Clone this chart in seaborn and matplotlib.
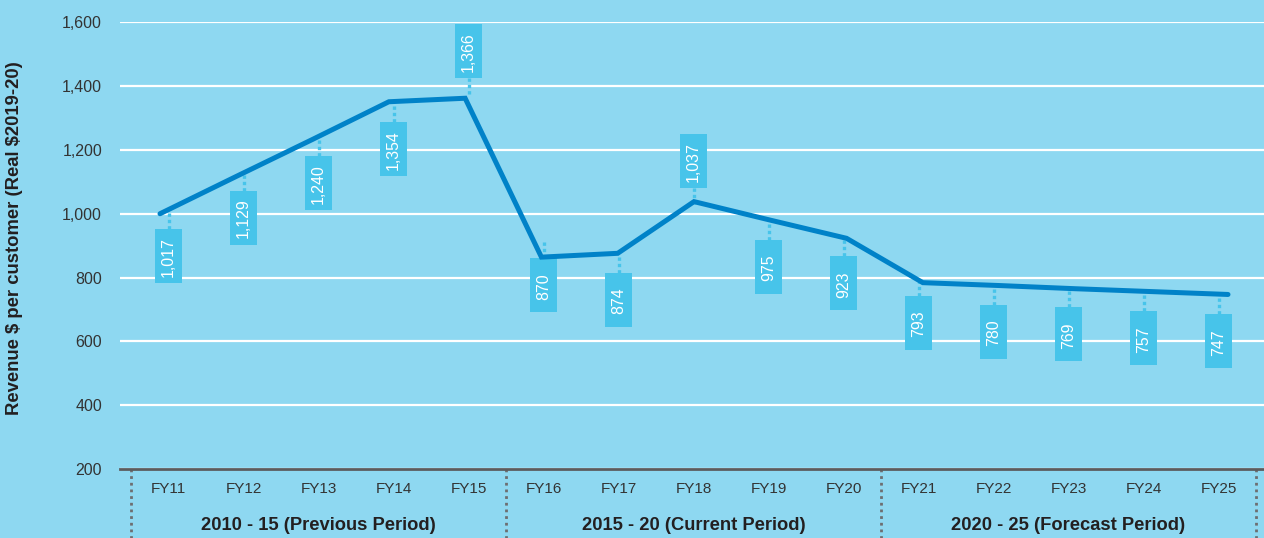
import numpy as np
import pandas as pd
import matplotlib
matplotlib.use("Agg")
import matplotlib.pyplot as plt
import matplotlib.transforms as mtransforms
from matplotlib.patches import Rectangle
import seaborn as sns

# ---------------- data ----------------
years = ["FY11", "FY12", "FY13", "FY14", "FY15", "FY16", "FY17", "FY18",
         "FY19", "FY20", "FY21", "FY22", "FY23", "FY24", "FY25"]
line_values = [1000, 1117, 1233, 1351, 1362, 864, 876, 1038, 980, 923,
               784, 775, 765, 756, 747]
label_values = [1017, 1129, 1240, 1354, 1366, 870, 874, 1037, 975, 923,
                793, 780, 769, 757, 747]
periods = ["2010 - 15 (Previous Period)", "2015 - 20 (Current Period)",
           "2020 - 25 (Forecast Period)"]
period_lengths = [5, 5, 5]
y_ticks = [200, 400, 600, 800, 1000, 1200, 1400, 1600]
y_label = "Revenue $ per customer (Real $2019-20)"

# label placement (pixels from value to box edge; negative = above)
label_gap_px = [21, 18, 19, 21, -19, 3, 19, -14, 18, 18, 16, 21, 20, 20, 20]

# ---------------- style ----------------
BG = "#8ed8f1"
LINE = "#0082c8"
BOX = "#47c4ea"
TXT = "#333333"
DARK = "#231f20"

sns.set_theme(style="white")
plt.rcParams['font.family'] = ['Liberation Sans', 'DejaVu Sans']

W, H = 1264, 538
PT = 72 / 100  # points per pixel
fig = plt.figure(figsize=(W / 100, H / 100), dpi=100, facecolor=BG)
ax_left, ax_right, ax_top, ax_bot = 120, 1264, 22.3, 469
ax = fig.add_axes([ax_left / W, (H - ax_bot) / H, (ax_right - ax_left) / W,
                   (ax_bot - ax_top) / H])
ax.set_facecolor(BG)

n = len(years)
pos = np.arange(n)
unit = 75.0  # px per category
ax.set_xlim(-0.5 - 11 / unit, -0.5 + (ax_right - 131) / unit)
ax.set_ylim(200, 1600)

ax.set_xticks(pos)
ax.set_xticklabels(years)
ax.set_yticks(y_ticks)
ax.set_yticklabels([f"{v:,}" for v in y_ticks])
ax.tick_params(axis="x", length=0, pad=13 * PT, labelsize=11, labelcolor=TXT)
ax.tick_params(axis="y", length=0, pad=18 * PT, labelsize=11.5, labelcolor=TXT)
ax.yaxis.grid(True, color="white", lw=1.6)
ax.xaxis.grid(False)
for s in ["top", "right", "left"]:
    ax.spines[s].set_visible(False)
ax.spines["bottom"].set_color("#5b5c5e")
ax.spines["bottom"].set_linewidth(2)
ax.spines["bottom"].set_zorder(3)
ax.set_axisbelow(True)
ax.set_xlabel("")
ax.set_ylabel("")

# period separators and labels
bounds = np.concatenate([[0], np.cumsum(period_lengths)]) - 0.5
xt = ax.get_xaxis_transform()
y_bottom = -(H - ax_bot) / (ax_bot - ax_top)
for b in bounds:
    ax.plot([b, b], [0, y_bottom], transform=xt, clip_on=False,
            color="#6d6e71", lw=2, linestyle=(0, (1, 1.4)))
for name, lo, hi in zip(periods, bounds[:-1], bounds[1:]):
    ax.text((lo + hi) / 2, -(526 - ax_bot) / (ax_bot - ax_top), name,
            transform=xt, ha="center", va="center", fontsize=13.2,
            fontweight="bold", color=DARK)

# y label (escape $ so it is not read as math)
fig.text(15 / W, 1 - 238.5 / H, y_label.replace("$", r"\$"), rotation=90,
         ha="center", va="center", fontsize=13.3, fontweight="bold", color=DARK)

# data label boxes with dotted connectors
bw, bh, conn = 27, 54, 16
for i, (v, g) in enumerate(zip(label_values, label_gap_px)):
    tr = mtransforms.Affine2D() + mtransforms.ScaledTranslation(i, v, ax.transData)
    if g >= 0:
        y0 = -g - bh
        cy = [-g, -g + conn]
    else:
        y0 = -g
        cy = [-g, -g - conn]
    ax.add_patch(Rectangle((-bw / 2, y0), bw, bh, transform=tr,
                           facecolor=BOX, edgecolor="none", zorder=4,
                           clip_on=False))
    ax.plot([0, 0], cy, transform=tr, color=BOX, lw=2.4,
            linestyle=(0, (1, 0.9)), zorder=4, clip_on=False)
    ax.text(0, y0 + bh / 2 - 1, f"{v:,}", transform=tr, rotation=90,
            ha="center", va="center", fontsize=11.4, color="white", zorder=5)

# line (drawn on its own slightly different x scale, as in the source)
ax2 = ax.twiny()
ax2.set_xlim(-40 / 76.286, 14 + 36 / 76.286)
df = pd.DataFrame({"pos": pos, "value": line_values})
sns.lineplot(data=df, x="pos", y="value", ax=ax2, color=LINE, lw=3.6,
             solid_capstyle="round", solid_joinstyle="miter", zorder=6)
ax2.set_ylim(200, 1600)
ax2.set_xticks([])
ax2.set_xlabel("")
ax2.set_ylabel("")
ax2.patch.set_visible(False)
for s in ax2.spines.values():
    s.set_visible(False)

fig.savefig("out.png", dpi=100, facecolor=BG)
